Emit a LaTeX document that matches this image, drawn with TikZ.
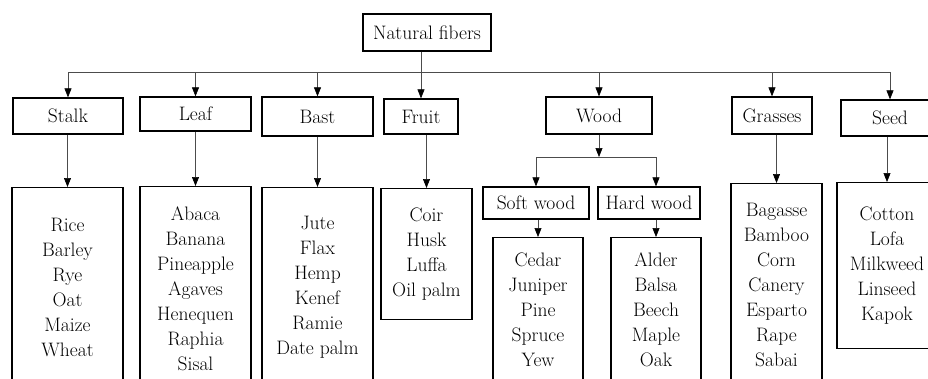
\documentclass[tikz,border=0pt]{standalone}
\usepackage{tikz}
\usetikzlibrary{arrows.meta, positioning}
\tikzstyle{cat} = [rectangle, draw=black, line width=1.3pt, inner sep=0pt, text centered]
\tikzstyle{fiberlist} = [rectangle, draw=black, line width=1.3pt, inner sep=0pt, align=center, anchor=north]
\tikzstyle{arrow} = [line width=0.6pt, black!70, -{Triangle[length=9pt,width=7pt,black]}]
\tikzstyle{link} = [line width=0.6pt, black!70]

\begin{document}
\begin{tikzpicture}[x=1pt, y=1pt, font=\fontsize{19.5}{25}\selectfont]
    \useasboundingbox (0,0) rectangle (928,-378);
    \clip (0,0) rectangle (928,-378);
    % top and first level
    \node[cat, minimum width=128pt, minimum height=37pt] (root) at (427,-32.5) {Natural fibers};
    \foreach \nm/\x/\y/\w/\h/\lbl in {
        stalk/68/116/110/36/Stalk,
        leaf/195.5/114/111/34/Leaf,
        bast/317.5/116.5/111/39/Bast,
        fruit/421/116.5/74/35/Fruit,
        wood/599/115.5/106/37/Wood,
        grasses/772/115.5/80/37/Grasses,
        seed/890/118/98/36/Seed,
        soft/536/203/106/32/{Soft wood},
        hard/649/203/102/32/{Hard wood}
      }{
        \node[cat, minimum width=\w pt, minimum height=\h pt] (\nm) at (\x,-\y) {\lbl};
      }
    % lists of fibers
    \node[fiberlist, minimum width=111pt, minimum height=200pt] (stalklist) at (67.5,-187)
        {Rice\\Barley\\Rye\\Oat\\Maize\\Wheat};
    \node[fiberlist, minimum width=111pt, minimum height=204pt] (leaflist) at (195.5,-186)
        {Abaca\\Banana\\Pineapple\\Agaves\\Henequen\\Raphia\\Sisal};
    \node[fiberlist, minimum width=111pt, minimum height=200pt] (bastlist) at (317.5,-187)
        {Jute\\Flax\\Hemp\\Kenef\\Ramie\\Date palm};
    \node[fiberlist, minimum width=91pt, minimum height=131pt] (fruitlist) at (426.5,-188)
        {Coir\\Husk\\Luffa\\Oil palm};
    \node[fiberlist, minimum width=90pt, minimum height=144pt] (softlist) at (538,-237)
        {Cedar\\Juniper\\Pine\\Spruce\\Yew};
    \node[fiberlist, minimum width=90pt, minimum height=144pt] (hardlist) at (656,-237)
        {Alder\\Balsa\\Beech\\Maple\\Oak};
    \node[fiberlist, minimum width=91pt, minimum height=203pt] (grasseslist) at (776.5,-183)
        {Bagasse\\Bamboo\\Corn\\Canery\\Esparto\\Rape\\Sabai};
    \node[fiberlist, minimum width=100pt, minimum height=166pt] (seedlist) at (887,-182)
        {Cotton\\Lofa\\Milkweed\\Linseed\\Kapok};
    % connectors
    \coordinate (bus) at (0,-72);
    \coordinate (woodbus) at (0,-157);
    \draw[link] (stalk.north |- bus) -- (seed.north |- bus);
    \draw[arrow] (fruit.north |- root.south) -- (fruit.north);
    \foreach \a in {stalk, leaf, bast, wood, grasses, seed}
        \draw[arrow] (\a.north |- bus) -- (\a.north);
    \foreach \a/\b in {stalk/stalklist, leaf/leaflist, bast/bastlist, fruit/fruitlist,
                       grasses/grasseslist, seed/seedlist, soft/softlist, hard/hardlist}
        \draw[arrow] (\a.south -| \b.north) -- (\b.north);
    \draw[arrow] (wood.south) -- (wood.south |- woodbus);
    \draw[link] (soft.north |- woodbus) -- (hardlist.north |- woodbus);
    \draw[arrow] (soft.north |- woodbus) -- (soft.north);
    \draw[arrow] (hardlist.north |- woodbus) -- (hardlist.north |- hard.north);
\end{tikzpicture}
\end{document}
